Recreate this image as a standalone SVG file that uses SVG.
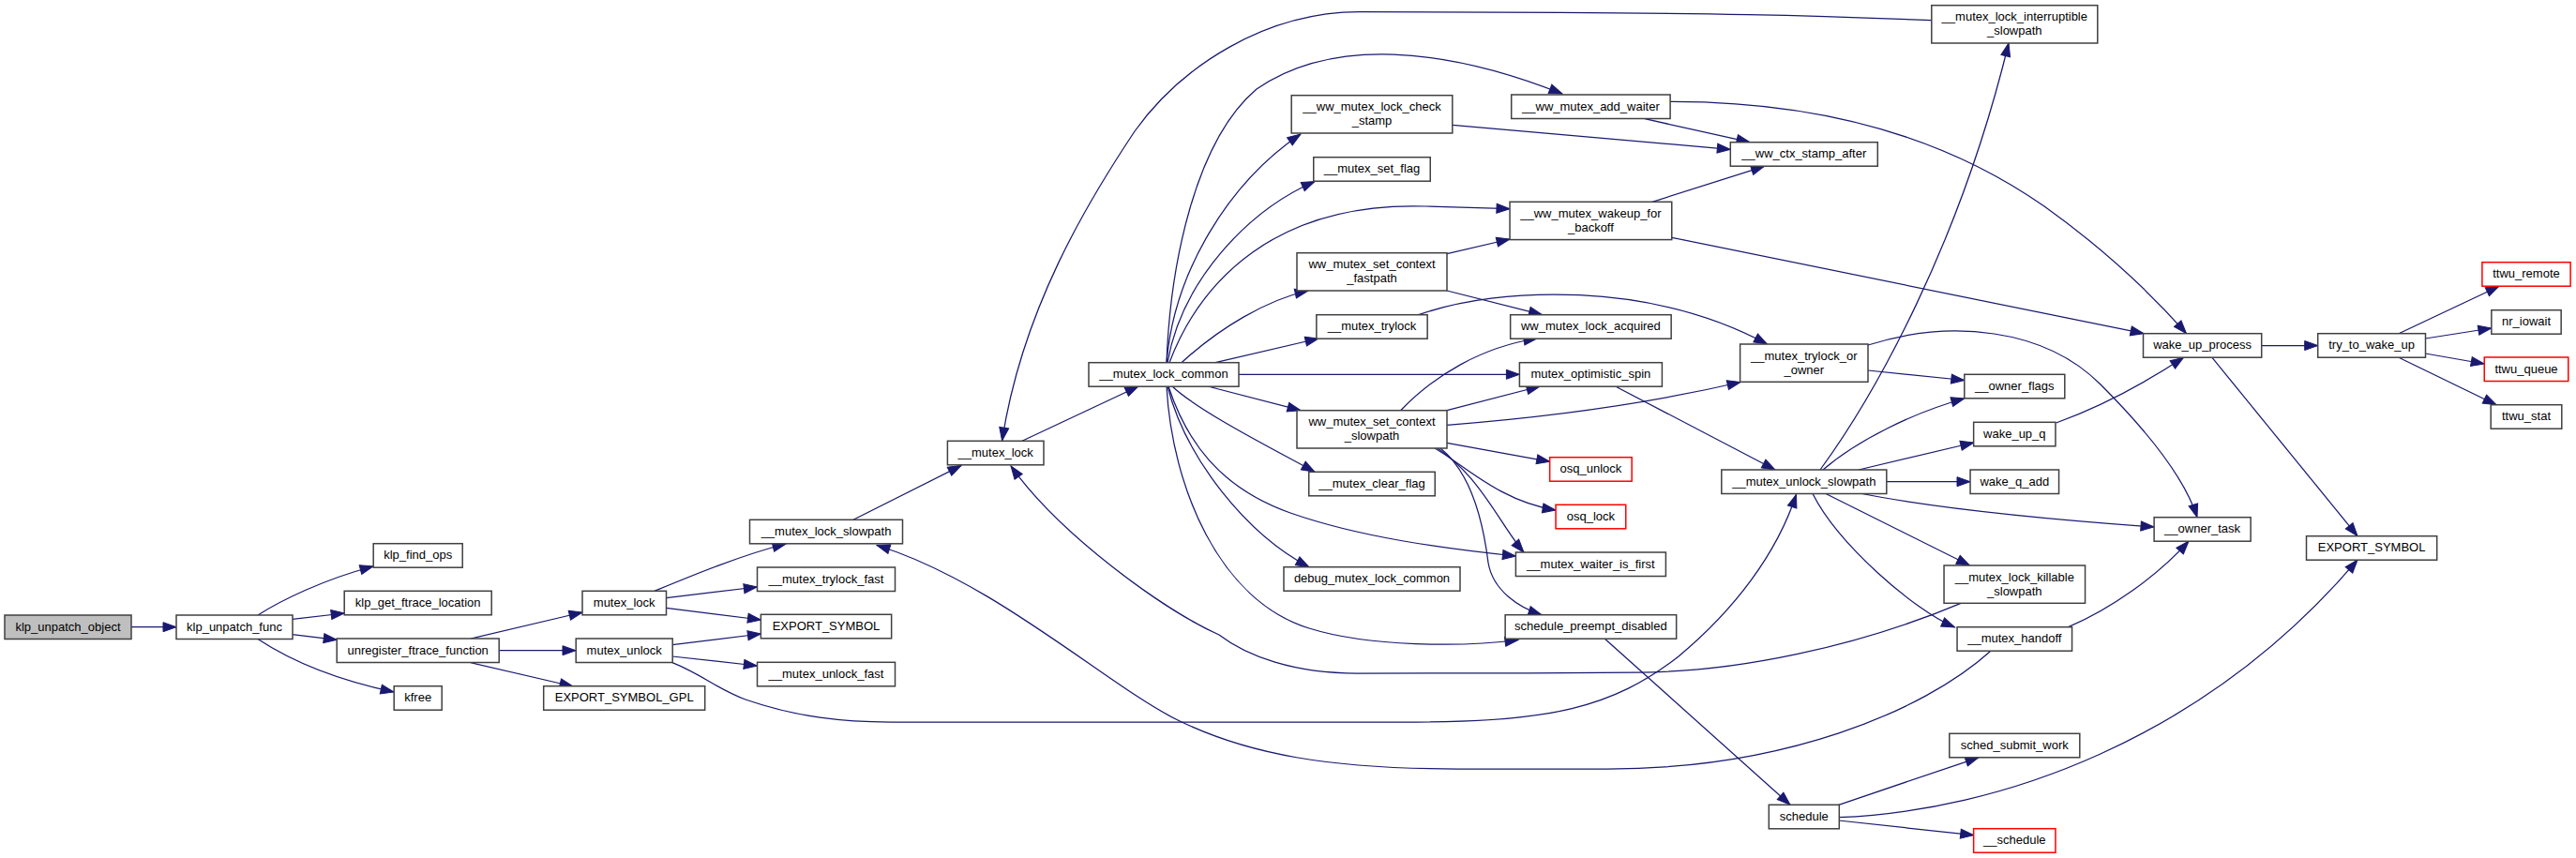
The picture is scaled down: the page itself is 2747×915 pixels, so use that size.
<svg xmlns="http://www.w3.org/2000/svg" width="2747" height="915" viewBox="0 0 2747 915">
<style>
.n rect{fill:#ffffff;stroke:#404040;stroke-width:1.5}
.n.root rect{fill:#bfbfbf}
.n.red rect{stroke:#ff0000}
.n text{font-family:"Liberation Sans",Arial,sans-serif;font-size:13px;fill:#000;text-anchor:middle}
#edges path{fill:none;stroke:#191970;stroke-width:1.25;marker-end:url(#ah)}
</style>
<defs>
<marker id="ah" markerWidth="14" markerHeight="10" refX="14" refY="5" orient="auto" markerUnits="userSpaceOnUse" overflow="visible">
<path d="M0,0 L14,5 L0,10 z" fill="#191970" stroke="#191970" stroke-width="1"/>
</marker>
</defs>
<rect x="0" y="0" width="2747" height="915" fill="#ffffff"/>
<g id="edges">
<path d="M140,668.7 L188,668.7"/>
<path d="M275,656 C300,640 345,618 398,604"/>
<path d="M311.7,660.3 L367.2,654"/>
<path d="M311.7,676.7 L359.2,682.3"/>
<path d="M275,681.5 C300,698 345,722 420,738"/>
<path d="M502,681 L621,653"/>
<path d="M532,693.7 L614,693.7"/>
<path d="M502,706.7 L611,732"/>
<path d="M698,630.3 C735,615 790,592 838,580"/>
<path d="M710.4,637.7 L807.3,626"/>
<path d="M710.4,648.3 L811.4,661"/>
<path d="M717,687.7 L811.4,676"/>
<path d="M717,700 L807.3,710"/>
<path d="M717,706.7 C750,720 765,735 795,746 C850,765 900,770 950,770 L1510,770 C1650,770 1720,755 1790,700 C1850,650 1895,590 1915.5,527.3"/>
<path d="M910,554.3 L1025,496.5"/>
<path d="M1090,470.3 L1214,412"/>
<path d="M2059.7,21.7 C1950,17 1850,13 1450,12.7 C1350,12.7 1260,70 1210,140 C1160,215 1090,330 1068.6,470"/>
<path d="M2091,643.3 C1980,690 1850,717 1746,717 C1650,718 1520,718 1447,718 C1380,718 1330,700 1300,677 C1240,650 1130,570 1078,497"/>
<path d="M2122.8,694.3 C2050,760 1900,820 1714,820 L1555,820 C1420,820 1330,805 1254,767 C1180,730 1060,620 935,581.5"/>
<path d="M1244,386.7 C1248,280 1275,150 1340,95 C1420,40 1540,50 1666,100"/>
<path d="M1244,386.7 C1252,290 1310,195 1387,143"/>
<path d="M1245,386.7 C1260,300 1330,225 1402,193.5"/>
<path d="M1247,386.7 C1280,300 1360,215 1520,220 C1560,221 1590,222 1610,222.7"/>
<path d="M1260,386.7 C1300,350 1350,320 1395,310"/>
<path d="M1296,386.7 L1406,361"/>
<path d="M1321,399.3 L1620.4,399.3"/>
<path d="M1288,412 L1387,437.7"/>
<path d="M1250,412 C1280,440 1360,480 1402,503.3"/>
<path d="M1246,412 C1265,470 1300,520 1376,547 C1450,573 1540,585 1616.4,593"/>
<path d="M1245,412 C1265,490 1330,570 1396,604.7"/>
<path d="M1244,412 C1250,520 1300,640 1396,670 C1460,690 1560,690 1619,682.5"/>
<path d="M1549,133.3 L1845.3,159.3"/>
<path d="M1754,126.7 L1866,151.7"/>
<path d="M1781,108.3 C1950,108 2080,150 2180,220 C2250,270 2300,320 2331.5,355.7"/>
<path d="M1762,215.3 L1881.5,177.3"/>
<path d="M1782.7,253.3 L2286,355.7"/>
<path d="M1543,270.7 L1610,255"/>
<path d="M1543,310 L1644.5,335.7"/>
<path d="M1512.8,335.7 C1600,305 1760,300 1884.5,367"/>
<path d="M1493.6,437.7 C1530,400 1580,370 1639,361"/>
<path d="M1543,437.7 L1642,412"/>
<path d="M1543,453.3 C1650,445 1760,430 1856,407.5"/>
<path d="M1543,472.3 L1652.7,492.3"/>
<path d="M1530,478 C1560,495 1600,535 1659,544"/>
<path d="M1533,478 C1580,510 1600,560 1625,589"/>
<path d="M1536,478 C1570,505 1582,560 1587,600 C1592,630 1620,648 1644,655.7"/>
<path d="M1724,412.7 L1893,501"/>
<path d="M1992,395 L2094.8,405.5"/>
<path d="M1992,368 C2080,340 2180,350 2240,410 C2290,460 2330,510 2343,551.7"/>
<path d="M1941,501 C2000,420 2090,260 2142,46"/>
<path d="M1944,501 C1980,470 2040,440 2094.8,425"/>
<path d="M1982,501 L2104.7,472"/>
<path d="M2011.8,513.7 L2101,513.7"/>
<path d="M1985.6,526.5 C2080,545 2200,555 2297,562"/>
<path d="M1947,526.5 L2100.5,603"/>
<path d="M1933,526.5 C1960,580 2040,650 2084.5,669"/>
<path d="M2205.7,668.7 C2250,650 2300,615 2334,577.2"/>
<path d="M2192.6,451 C2250,430 2300,400 2328.5,381.2"/>
<path d="M2411.8,368.5 L2471.7,368.5"/>
<path d="M2359,381.3 L2514,571.7"/>
<path d="M2558,355.7 L2665,305.2"/>
<path d="M2586.4,361 L2656.8,350"/>
<path d="M2586.4,377 L2649.2,388"/>
<path d="M2558,381.3 L2662,431.7"/>
<path d="M1711.4,681.2 L1909,858.3"/>
<path d="M1960.8,858.3 L2110,807.8"/>
<path d="M1960.8,875 L2104.7,890.7"/>
<path d="M1960.8,871.7 C2130,865 2350,790 2514,597.2"/>
</g>
<g id="n_klp_unpatch_object" class="n root"><rect x="5" y="656" width="135" height="25.5"/><text x="72.5" y="672.5">klp_unpatch_object</text></g>
<g id="n_klp_unpatch_func" class="n"><rect x="188" y="656" width="124" height="25.5"/><text x="250" y="672.5">klp_unpatch_func</text></g>
<g id="n_klp_find_ops" class="n"><rect x="398.2" y="579.7" width="95" height="25.5"/><text x="445.7" y="596.2">klp_find_ops</text></g>
<g id="n_klp_get_ftrace_location" class="n"><rect x="367.2" y="630.3" width="157" height="25.5"/><text x="445.7" y="646.8">klp_get_ftrace_location</text></g>
<g id="n_unregister_ftrace_function" class="n"><rect x="359.2" y="681" width="173" height="25.5"/><text x="445.7" y="697.5">unregister_ftrace_function</text></g>
<g id="n_kfree" class="n"><rect x="420.2" y="731.7" width="51" height="25.5"/><text x="445.7" y="748.2">kfree</text></g>
<g id="n_mutex_lock" class="n"><rect x="621" y="630.3" width="89.5" height="25.5"/><text x="665.7" y="646.8">mutex_lock</text></g>
<g id="n_mutex_unlock" class="n"><rect x="614.2" y="681" width="103" height="25.5"/><text x="665.7" y="697.5">mutex_unlock</text></g>
<g id="n_EXPORT_SYMBOL_GPL" class="n"><rect x="579.7" y="731.7" width="172" height="25.5"/><text x="665.7" y="748.2">EXPORT_SYMBOL_GPL</text></g>
<g id="n___mutex_lock_slowpath" class="n"><rect x="799.5" y="554.3" width="163" height="25.5"/><text x="881" y="570.8">__mutex_lock_slowpath</text></g>
<g id="n___mutex_trylock_fast" class="n"><rect x="807.5" y="605" width="147" height="25.5"/><text x="881" y="621.5">__mutex_trylock_fast</text></g>
<g id="n_EXPORT_SYMBOL_1" class="n"><rect x="811.35" y="655.3" width="139.3" height="25.5"/><text x="881" y="671.8">EXPORT_SYMBOL</text></g>
<g id="n___mutex_unlock_fast" class="n"><rect x="807.5" y="706.3" width="147" height="25.5"/><text x="881" y="722.8">__mutex_unlock_fast</text></g>
<g id="n___mutex_lock" class="n"><rect x="1010.4" y="470.3" width="102.6" height="25.5"/><text x="1061.7" y="486.8">__mutex_lock</text></g>
<g id="n___mutex_lock_common" class="n"><rect x="1161" y="386.7" width="160" height="25.5"/><text x="1241" y="403.2">__mutex_lock_common</text></g>
<g id="n___ww_mutex_lock_check_stamp" class="n"><rect x="1377.2" y="101.7" width="171.6" height="40.3"/><text x="1463" y="118.2">__ww_mutex_lock_check</text><text x="1463" y="133.2">_stamp</text></g>
<g id="n___mutex_set_flag" class="n"><rect x="1400.75" y="167.7" width="124.5" height="25.5"/><text x="1463" y="184.2">__mutex_set_flag</text></g>
<g id="n_ww_mutex_set_context_fastpath" class="n"><rect x="1383" y="269.7" width="160" height="40.3"/><text x="1463" y="286.2">ww_mutex_set_context</text><text x="1463" y="301.2">_fastpath</text></g>
<g id="n___mutex_trylock" class="n"><rect x="1403.85" y="335.7" width="118.3" height="25.5"/><text x="1463" y="352.2">__mutex_trylock</text></g>
<g id="n_ww_mutex_set_context_slowpath" class="n"><rect x="1383" y="437.7" width="160" height="40.3"/><text x="1463" y="454.2">ww_mutex_set_context</text><text x="1463" y="469.2">_slowpath</text></g>
<g id="n___mutex_clear_flag" class="n"><rect x="1395.75" y="503.3" width="134.5" height="25.5"/><text x="1463" y="519.8">__mutex_clear_flag</text></g>
<g id="n_debug_mutex_lock_common" class="n"><rect x="1369" y="604.7" width="188" height="25.5"/><text x="1463" y="621.2">debug_mutex_lock_common</text></g>
<g id="n___ww_mutex_add_waiter" class="n"><rect x="1611.7" y="101" width="169.4" height="25.5"/><text x="1696.4" y="117.5">__ww_mutex_add_waiter</text></g>
<g id="n___ww_mutex_wakeup_for_backoff" class="n"><rect x="1610.05" y="215.3" width="172.7" height="40.3"/><text x="1696.4" y="231.8">__ww_mutex_wakeup_for</text><text x="1696.4" y="246.8">_backoff</text></g>
<g id="n_ww_mutex_lock_acquired" class="n"><rect x="1610.65" y="335.7" width="171.5" height="25.5"/><text x="1696.4" y="352.2">ww_mutex_lock_acquired</text></g>
<g id="n_mutex_optimistic_spin" class="n"><rect x="1620.4" y="386.7" width="152" height="25.5"/><text x="1696.4" y="403.2">mutex_optimistic_spin</text></g>
<g id="n_osq_unlock" class="n red"><rect x="1652.65" y="487.7" width="87.5" height="25.5"/><text x="1696.4" y="504.2">osq_unlock</text></g>
<g id="n_osq_lock" class="n red"><rect x="1659.05" y="538.3" width="74.7" height="25.5"/><text x="1696.4" y="554.8">osq_lock</text></g>
<g id="n___mutex_waiter_is_first" class="n"><rect x="1616.4" y="589" width="160" height="25.5"/><text x="1696.4" y="605.5">__mutex_waiter_is_first</text></g>
<g id="n_schedule_preempt_disabled" class="n"><rect x="1605.15" y="655.7" width="182.5" height="25.5"/><text x="1696.4" y="672.2">schedule_preempt_disabled</text></g>
<g id="n___ww_ctx_stamp_after" class="n"><rect x="1845.3" y="151.7" width="157" height="25.5"/><text x="1923.8" y="168.2">__ww_ctx_stamp_after</text></g>
<g id="n___mutex_trylock_or_owner" class="n"><rect x="1855.6" y="367" width="136.4" height="40.3"/><text x="1923.8" y="383.5">__mutex_trylock_or</text><text x="1923.8" y="398.5">_owner</text></g>
<g id="n___mutex_unlock_slowpath" class="n"><rect x="1835.8" y="501" width="176" height="25.5"/><text x="1923.8" y="517.5">__mutex_unlock_slowpath</text></g>
<g id="n_schedule" class="n"><rect x="1886.3" y="858.3" width="75" height="25.5"/><text x="1923.8" y="874.8">schedule</text></g>
<g id="n___mutex_lock_interruptible_slowpath" class="n"><rect x="2059.8" y="5.7" width="177" height="40.3"/><text x="2148.3" y="22.2">__mutex_lock_interruptible</text><text x="2148.3" y="37.2">_slowpath</text></g>
<g id="n___owner_flags" class="n"><rect x="2094.8" y="399.3" width="107" height="25.5"/><text x="2148.3" y="415.8">__owner_flags</text></g>
<g id="n_wake_up_q" class="n"><rect x="2104.65" y="450.3" width="87.3" height="25.5"/><text x="2148.3" y="466.8">wake_up_q</text></g>
<g id="n_wake_q_add" class="n"><rect x="2101.05" y="501" width="94.5" height="25.5"/><text x="2148.3" y="517.5">wake_q_add</text></g>
<g id="n___mutex_lock_killable_slowpath" class="n"><rect x="2073.05" y="603" width="150.5" height="40.3"/><text x="2148.3" y="619.5">__mutex_lock_killable</text><text x="2148.3" y="634.5">_slowpath</text></g>
<g id="n___mutex_handoff" class="n"><rect x="2087.05" y="668.7" width="122.5" height="25.5"/><text x="2148.3" y="685.2">__mutex_handoff</text></g>
<g id="n_sched_submit_work" class="n"><rect x="2078.8" y="782.3" width="139" height="25.5"/><text x="2148.3" y="798.8">sched_submit_work</text></g>
<g id="n___schedule" class="n red"><rect x="2104.65" y="883.7" width="87.3" height="25.5"/><text x="2148.3" y="900.2">__schedule</text></g>
<g id="n___owner_task" class="n"><rect x="2297.1" y="551.7" width="103" height="25.5"/><text x="2348.6" y="568.2">__owner_task</text></g>
<g id="n_wake_up_process" class="n"><rect x="2285.5" y="355.7" width="126.2" height="25.5"/><text x="2348.6" y="372.2">wake_up_process</text></g>
<g id="n_EXPORT_SYMBOL_2" class="n"><rect x="2459.5" y="571.7" width="139.2" height="25.5"/><text x="2529.1" y="588.2">EXPORT_SYMBOL</text></g>
<g id="n_try_to_wake_up" class="n"><rect x="2471.7" y="355.7" width="114.8" height="25.5"/><text x="2529.1" y="372.2">try_to_wake_up</text></g>
<g id="n_ttwu_remote" class="n red"><rect x="2646.9" y="279.7" width="94.2" height="25.5"/><text x="2694" y="296.2">ttwu_remote</text></g>
<g id="n_nr_iowait" class="n"><rect x="2656.85" y="330.7" width="74.3" height="25.5"/><text x="2694" y="347.2">nr_iowait</text></g>
<g id="n_ttwu_queue" class="n red"><rect x="2649.25" y="381" width="89.5" height="25.5"/><text x="2694" y="397.5">ttwu_queue</text></g>
<g id="n_ttwu_stat" class="n"><rect x="2656.2" y="431.7" width="75.6" height="25.5"/><text x="2694" y="448.2">ttwu_stat</text></g>
</svg>
